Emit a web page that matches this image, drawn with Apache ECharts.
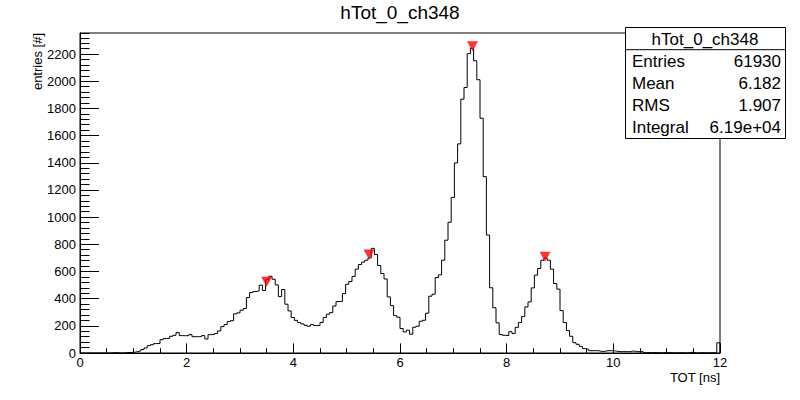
<!DOCTYPE html>
<html><head><meta charset="utf-8">
<script src="https://cdn.jsdelivr.net/npm/echarts@6/dist/echarts.min.js"></script>
<style>html,body{margin:0;padding:0;background:#fff}#c{width:800px;height:400px}</style>
</head><body><div id="c"></div>
<script>
// ---- data ----
const histTitle = 'hTot_0_ch348';
const xName = 'TOT [ns]';
const yName = 'entries [#]';
const binLow = 0;
const binHigh = 12;
const binWidth = 0.06; // 200 bins
const counts = [
  0,0,0,0,0,0,0,0,0,0,
  3,2,0,1,3,4,5,10,15,25,
  37,54,61,69,70,98,106,108,123,130,
  150,128,127,128,135,120,120,121,128,103,
  135,136,143,162,194,209,231,238,288,295,
  315,327,408,445,452,457,499,460,541,565,
  543,501,415,467,359,310,261,240,224,214,
  204,197,209,202,203,225,262,285,297,346,
  378,380,437,506,526,563,617,651,669,683,
  700,770,725,644,585,545,413,349,275,263,
  180,155,168,138,190,197,234,241,293,418,
  433,555,575,683,830,962,1145,1399,1539,1868,
  1954,2203,2243,2151,2011,1728,1298,868,480,333,
  222,136,130,128,157,143,189,224,268,339,
  376,479,573,622,683,700,683,617,511,470,
  312,224,165,123,76,64,49,32,27,17,
  17,17,12,12,17,17,17,12,10,10,
  10,10,15,10,10,10,3,3,2,3,
  2,2,3,2,2,1,2,2,2,0,
  5,4,0,2,2,1,2,2,2,75
];
const peakX = [3.50, 5.42, 7.36, 8.72];
const peakY = [524, 725, 2257, 708];
const statsNames = ['Entries', 'Mean', 'RMS', 'Integral'];
const statsValues = ['61930', '6.182', '1.907', '6.19e+04'];
const xTickLabels = ['0', '2', '4', '6', '8', '10', '12'];
const yTickLabels = ['0','200','400','600','800','1000','1200','1400','1600','1800','2000','2200'];
const yMax = 2355;

// ---- build ----
const stepData = counts.map((v, i) => [binLow + i * binWidth, v]);
stepData.push([binHigh, 0]);
const peaks = peakX.map((x, i) => [x, peakY[i]]);

const FONT = '"Liberation Sans", Arial, Helvetica, sans-serif';
const chart = echarts.init(document.getElementById('c'), null, {renderer: 'svg'});

const gLeft = 80, gTop = 33, gW = 640, gH = 320;
const boxX = 625, boxY = 27, boxW = 160, rowH = 22.2;

const graphics = [
  {type: 'text', left: 'center', top: 3, style: {text: histTitle, font: '19px ' + FONT, fill: '#000'}},
  {type: 'text', x: 720, y: 377, style: {text: xName, font: '13px ' + FONT, fill: '#000', align: 'right', verticalAlign: 'middle'}},
  {type: 'text', x: 37, y: 33, rotation: Math.PI / 2, style: {text: yName, font: '13px ' + FONT, fill: '#000', align: 'right', verticalAlign: 'middle'}},
  {type: 'rect', z: 100, shape: {x: boxX + 0.5, y: boxY + 0.5, width: boxW, height: rowH * 5}, style: {fill: '#fff', stroke: '#000', lineWidth: 1}},
  {type: 'line', z: 101, shape: {x1: boxX + 0.5, y1: boxY + rowH + 0.5, x2: boxX + boxW + 0.5, y2: boxY + rowH + 0.5}, style: {stroke: '#000', lineWidth: 1}},
  {type: 'text', z: 102, x: boxX + boxW / 2, y: boxY + rowH / 2 + 1, style: {text: histTitle, font: '17px ' + FONT, fill: '#000', align: 'center', verticalAlign: 'middle'}}
];
statsNames.forEach((n, i) => {
  const cy = boxY + rowH * (i + 1.5) + 1;
  graphics.push({type: 'text', z: 102, x: boxX + 7, y: cy, style: {text: n, font: '17px ' + FONT, fill: '#000', align: 'left', verticalAlign: 'middle'}});
  graphics.push({type: 'text', z: 102, x: boxX + boxW - 4, y: cy, style: {text: statsValues[i], font: '17px ' + FONT, fill: '#000', align: 'right', verticalAlign: 'middle'}});
});

const labelStyle = {color: '#000', fontFamily: FONT, fontSize: 13};
chart.setOption({
  animation: false,
  backgroundColor: '#fff',
  grid: {left: gLeft, top: gTop, width: gW, height: gH, show: true, borderColor: '#000', borderWidth: 1, containLabel: false},
  xAxis: [
    {type: 'value', min: binLow, max: binHigh, interval: 2, position: 'bottom',
     axisLine: {show: true, onZero: false, lineStyle: {color: '#000', width: 1}},
     axisTick: {show: true, inside: true, length: 9.6, lineStyle: {color: '#000'}},
     axisLabel: {...labelStyle, margin: 3, formatter: (v) => xTickLabels[Math.round(v / 2)] ?? ''},
     splitLine: {show: false}},
    {type: 'value', min: binLow, max: binHigh, interval: 0.5, position: 'bottom',
     axisLine: {show: false}, axisLabel: {show: false}, splitLine: {show: false},
     axisTick: {show: true, inside: true, length: 4.8, lineStyle: {color: '#000'}}}
  ],
  yAxis: [
    {type: 'value', min: 0, max: yMax, interval: 200, position: 'left',
     axisLine: {show: true, onZero: false, lineStyle: {color: '#000', width: 1}},
     axisTick: {show: true, inside: true, length: 19, lineStyle: {color: '#000'}},
     axisLabel: {...labelStyle, margin: 4, showMaxLabel: false, formatter: (v) => yTickLabels[Math.round(v / 200)] ?? ''},
     splitLine: {show: false}},
    {type: 'value', min: 0, max: yMax, interval: 40, position: 'left',
     axisLine: {show: false}, axisLabel: {show: false}, splitLine: {show: false},
     axisTick: {show: true, inside: true, length: 9.5, lineStyle: {color: '#000'}}}
  ],
  series: [
    {type: 'line', xAxisIndex: 0, yAxisIndex: 0, data: stepData, step: 'end', showSymbol: false, symbol: 'none',
     lineStyle: {color: '#000', width: 1}, silent: true, z: 3},
    {type: 'scatter', xAxisIndex: 0, yAxisIndex: 0, data: peaks, symbol: 'triangle', symbolRotate: 180,
     symbolSize: [11, 10], itemStyle: {color: '#ff0000'}, z: 4}
  ],
  graphic: graphics
});
</script></body></html>
